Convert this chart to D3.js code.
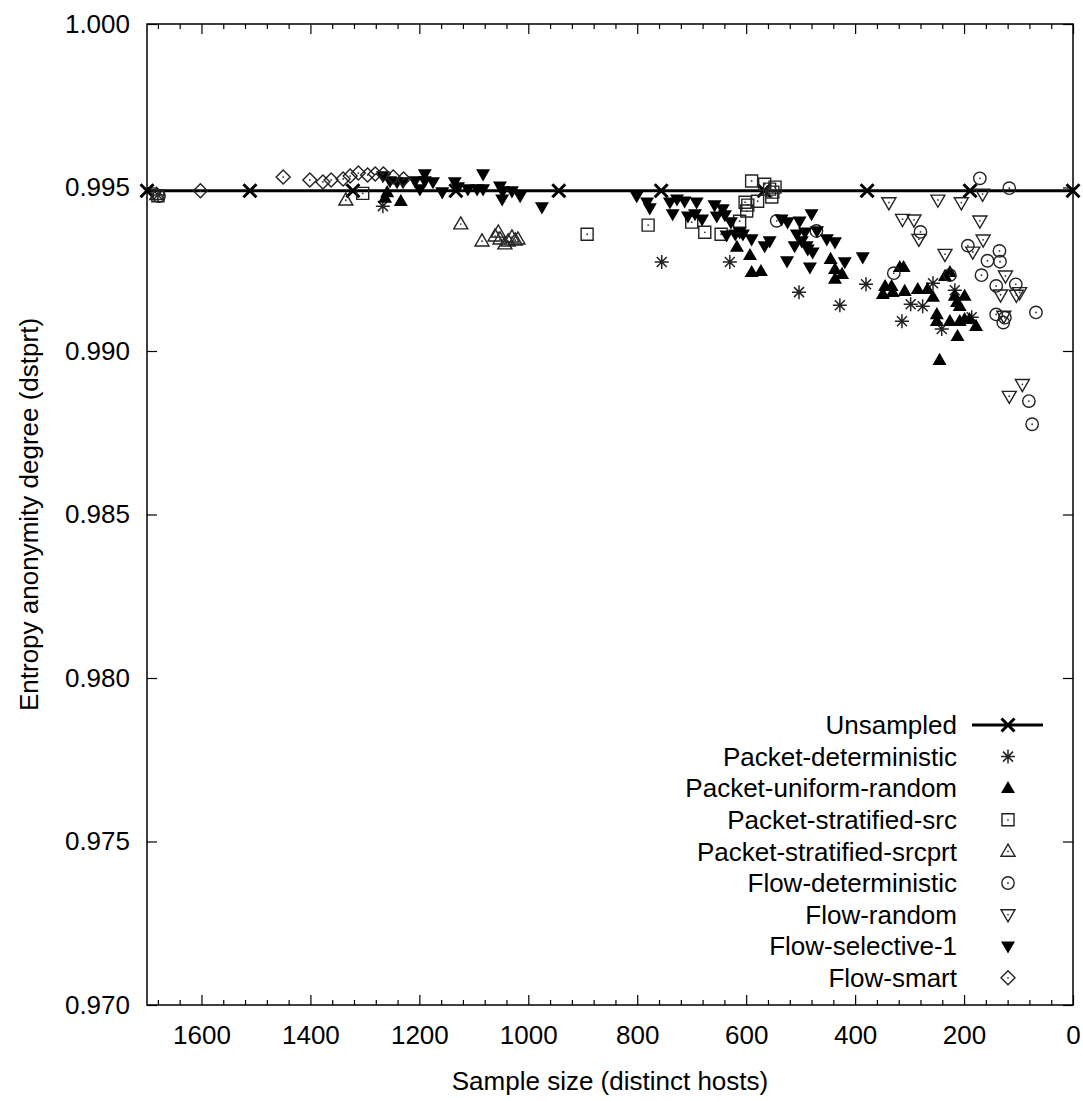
<!DOCTYPE html>
<html>
<head>
<meta charset="utf-8">
<script src="https://cdn.jsdelivr.net/npm/d3@7"></script>
<style>
  body { margin: 0; background: #fff; }
  text { font-family: "Liberation Sans", Arial, sans-serif; fill: #000; }
</style>
</head>
<body>
<div id="chart"></div>
<script>
// ---- data (sample size, entropy anonymity degree) ----
const xTicks = [1600, 1400, 1200, 1000, 800, 600, 400, 200, 0];
const yTicks = [0.970, 0.975, 0.980, 0.985, 0.990, 0.995, 1.000];

const unsampled = [[1700,0.9949],[1511,0.9949],[1322,0.9949],[1133,0.9949],[944,0.9949],
  [756,0.9949],[567,0.9949],[378,0.9949],[189,0.9949],[0,0.9949]];

const packetDeterministic = [[1680,0.99477],[1267,0.99443],[755,0.99272],[630,0.99272],
  [503,0.99180],[428,0.99140],[380,0.99204],[314,0.99091],[298,0.99143],[276,0.99137],
  [257,0.99207],[217,0.99186],[241,0.99067],[186,0.99103]];

const packetUniformRandom = [[1259,0.99485],[1263,0.99468],[1234,0.99458],[617,0.99318],
  [593,0.99293],[590,0.99241],[573,0.99244],[445,0.99281],[437,0.99250],[424,0.99235],
  [437,0.99220],[345,0.99198],[333,0.99198],[349,0.99174],[331,0.99180],[318,0.99256],
  [311,0.99256],[309,0.99183],[285,0.99189],[267,0.99189],[257,0.99165],[235,0.99229],
  [226,0.99241],[217,0.99168],[199,0.99168],[213,0.99149],[208,0.99137],[250,0.99112],
  [250,0.99091],[226,0.99091],[208,0.99091],[199,0.99097],[190,0.99097],[178,0.99076],
  [212,0.99045],[245,0.98972]];

const packetStratifiedSrc = [[1680,0.99475],[1304,0.99482],[892,0.99357],[780,0.99385],
  [700,0.99394],[676,0.99363],[646,0.99357],[612,0.99397],[602,0.99455],[597,0.99446],
  [599,0.99428],[590,0.99520],[579,0.99458],[566,0.99510],[557,0.99495],[551,0.99486],
  [553,0.99471],[547,0.99501]];

const packetStratifiedSrcprt = [[1682,0.99478],[1335,0.99461],[1124,0.99388],[1085,0.99336],
  [1061,0.99351],[1055,0.99363],[1052,0.99342],[1043,0.99327],[1037,0.99336],[1030,0.99348],
  [1024,0.99339],[1019,0.99342]];

const flowDeterministic = [[1678,0.99474],[171,0.99528],[117,0.99498],[280,0.99364],
  [193,0.99322],[135,0.99306],[157,0.99276],[134,0.99273],[168,0.99232],[141,0.99199],
  [105,0.99204],[141,0.99112],[125,0.99102],[128,0.99087],[68,0.99118],[329,0.99238],
  [226,0.99232],[471,0.99367],[544,0.99398],[81,0.98847],[75,0.98776]];

const flowRandom = [[338,0.99454],[248,0.99462],[205,0.99454],[166,0.99480],[313,0.99403],
  [292,0.99401],[283,0.99342],[171,0.99398],[165,0.99340],[235,0.99296],[184,0.99303],
  [124,0.99230],[133,0.99172],[104,0.99171],[98,0.99179],[127,0.99107],[93,0.98898],
  [117,0.98862]];

const flowSelective1 = [[1267,0.99535],[1254,0.99520],[1241,0.99517],[1230,0.99517],
  [1208,0.99520],[1190,0.99541],[1190,0.99520],[1175,0.99517],[1199,0.99495],[1158,0.99486],
  [1135,0.99517],[1129,0.99501],[1111,0.99495],[1094,0.99495],[1083,0.99541],[1083,0.99495],
  [1052,0.99504],[1047,0.99489],[1048,0.99464],[1030,0.99489],[1015,0.99474],[975,0.99440],
  [801,0.99474],[782,0.99455],[777,0.99437],[740,0.99455],[735,0.99419],[727,0.99464],
  [713,0.99458],[691,0.99455],[707,0.99412],[694,0.99419],[681,0.99403],[658,0.99446],
  [654,0.99412],[643,0.99434],[639,0.99416],[628,0.99394],[636,0.99354],[620,0.99357],
  [606,0.99357],[612,0.99363],[590,0.99342],[566,0.99321],[557,0.99336],[535,0.99403],
  [524,0.99394],[502,0.99397],[480,0.99419],[525,0.99275],[511,0.99321],[498,0.99336],
  [487,0.99311],[483,0.99256],[470,0.99367],[452,0.99342],[437,0.99333],[419,0.99272],
  [386,0.99287],[492,0.99363],[507,0.99357],[489,0.99321],[478,0.99302]];

const flowSmart = [[1602,0.99490],[1450,0.99532],[1401,0.99523],[1377,0.99517],[1362,0.99523],
  [1340,0.99526],[1327,0.99535],[1312,0.99544],[1295,0.99538],[1281,0.99541],[1266,0.99541],
  [1248,0.99532],[1229,0.99526]];

const seriesNames = ["Unsampled", "Packet-deterministic", "Packet-uniform-random",
  "Packet-stratified-src", "Packet-stratified-srcprt", "Flow-deterministic",
  "Flow-random", "Flow-selective-1", "Flow-smart"];

(function() {
  const W = 1083, H = 1101;
  const left = 147, right = 1073, top = 24, bottom = 1005;

  const svg = d3.select("#chart").append("svg")
    .attr("width", W).attr("height", H);

  const x = d3.scaleLinear().domain([1700, 0]).range([left, right]);
  const y = d3.scaleLinear().domain([0.970, 1.000]).range([bottom, top]);

  // marker shapes, gnuplot-like
  const shapes = {
    cross: "M-6.5,-6.5L6.5,6.5M-6.5,6.5L6.5,-6.5",
    star: "M-7,0L7,0M0,-7L0,7M-5,-5L5,5M-5,5L5,-5",
    up: "M0,-7.3L7,4.8L-7,4.8Z",
    down: "M0,7.3L7,-4.8L-7,-4.8Z",
    square: "M-6,-6H6V6H-6Z",
    circle: "M6.2,0A6.2,6.2 0 1,1 -6.2,0A6.2,6.2 0 1,1 6.2,0Z",
    diamond: "M0,-7L7,0L0,7L-7,0Z"
  };
  const styles = [
    { shape: "cross", fill: "none", stroke: "#000", sw: 3, dot: false },
    { shape: "star", fill: "none", stroke: "#222", sw: 1.5, dot: false },
    { shape: "up", fill: "#000", stroke: "none", sw: 0, dot: false },
    { shape: "square", fill: "none", stroke: "#222", sw: 1.4, dot: true },
    { shape: "up", fill: "none", stroke: "#222", sw: 1.4, dot: true },
    { shape: "circle", fill: "none", stroke: "#222", sw: 1.4, dot: true },
    { shape: "down", fill: "none", stroke: "#222", sw: 1.4, dot: true },
    { shape: "down", fill: "#000", stroke: "none", sw: 0, dot: false },
    { shape: "diamond", fill: "none", stroke: "#222", sw: 1.4, dot: true }
  ];
  const allSeries = [unsampled, packetDeterministic, packetUniformRandom, packetStratifiedSrc,
    packetStratifiedSrcprt, flowDeterministic, flowRandom, flowSelective1, flowSmart];

  function drawMarker(g, st, cx, cy) {
    g.append("path")
      .attr("d", shapes[st.shape])
      .attr("transform", `translate(${cx},${cy})`)
      .attr("fill", st.fill)
      .attr("stroke", st.stroke)
      .attr("stroke-width", st.sw);
    if (st.dot) {
      g.append("circle").attr("cx", cx).attr("cy", cy).attr("r", 0.9).attr("fill", "#333");
    }
  }

  // axes: major + minor ticks, inward, mirrored
  const fontSize = 26;
  const minorX = d3.range(40, 1700, 40).filter(v => v % 200 !== 0);
  svg.append("g")
    .attr("transform", `translate(0,${bottom})`)
    .call(d3.axisBottom(x).tickValues(xTicks).tickSizeInner(-10).tickSizeOuter(0)
      .tickPadding(21).tickFormat(d3.format("d")));
  svg.append("g")
    .attr("transform", `translate(0,${bottom})`)
    .call(d3.axisBottom(x).tickValues(minorX).tickSizeInner(-5).tickSizeOuter(0).tickFormat(""));
  svg.append("g")
    .attr("transform", `translate(0,${top})`)
    .call(d3.axisTop(x).tickValues(xTicks).tickSizeInner(-10).tickSizeOuter(0).tickFormat(""));
  svg.append("g")
    .attr("transform", `translate(0,${top})`)
    .call(d3.axisTop(x).tickValues(minorX).tickSizeInner(-5).tickSizeOuter(0).tickFormat(""));
  svg.append("g")
    .attr("transform", `translate(${left},0)`)
    .call(d3.axisLeft(y).tickValues(yTicks).tickSizeInner(-10).tickSizeOuter(0)
      .tickPadding(17).tickFormat(d3.format(".3f")));
  svg.append("g")
    .attr("transform", `translate(${right},0)`)
    .call(d3.axisRight(y).tickValues(yTicks).tickSizeInner(-10).tickSizeOuter(0).tickFormat(""));

  svg.selectAll(".domain").remove();
  svg.selectAll(".tick line").attr("stroke", "#000").attr("stroke-width", 1.2);
  svg.selectAll(".tick text")
    .style("font-family", "'Liberation Sans', Arial, sans-serif")
    .style("font-size", fontSize + "px").attr("fill", "#000");

  svg.append("rect")
    .attr("x", left).attr("y", top)
    .attr("width", right - left).attr("height", bottom - top)
    .attr("fill", "none").attr("stroke", "#000").attr("stroke-width", 1.5);

  // axis titles
  svg.append("text")
    .attr("x", (left + right) / 2).attr("y", 1090)
    .attr("text-anchor", "middle").style("font-size", fontSize + "px")
    .text("Sample size (distinct hosts)");
  svg.append("text")
    .attr("transform", `translate(38,${(top + bottom) / 2}) rotate(-90)`)
    .attr("text-anchor", "middle").style("font-size", fontSize + "px")
    .text("Entropy anonymity degree (dstprt)");

  // unsampled line
  svg.append("path")
    .datum(unsampled)
    .attr("d", d3.line().x(d => x(d[0])).y(d => y(d[1])))
    .attr("fill", "none").attr("stroke", "#000").attr("stroke-width", 3);

  // points
  const pts = svg.append("g");
  allSeries.forEach((s, i) => {
    s.forEach(d => drawMarker(pts, styles[i], x(d[0]), y(d[1])));
  });

  // legend
  const leg = svg.append("g");
  const legTextX = 957, legSymX = 1008, legY0 = 725, legDy = 31.6;
  seriesNames.forEach((name, i) => {
    const ly = legY0 + i * legDy;
    leg.append("text")
      .attr("x", legTextX).attr("y", ly).attr("dy", "0.35em")
      .attr("text-anchor", "end").style("font-size", fontSize + "px")
      .text(name);
    if (i === 0) {
      leg.append("line").attr("x1", 972).attr("x2", 1043).attr("y1", ly).attr("y2", ly)
        .attr("stroke", "#000").attr("stroke-width", 3);
    }
    drawMarker(leg, styles[i], legSymX, ly);
  });
})();
</script>
</body>
</html>
